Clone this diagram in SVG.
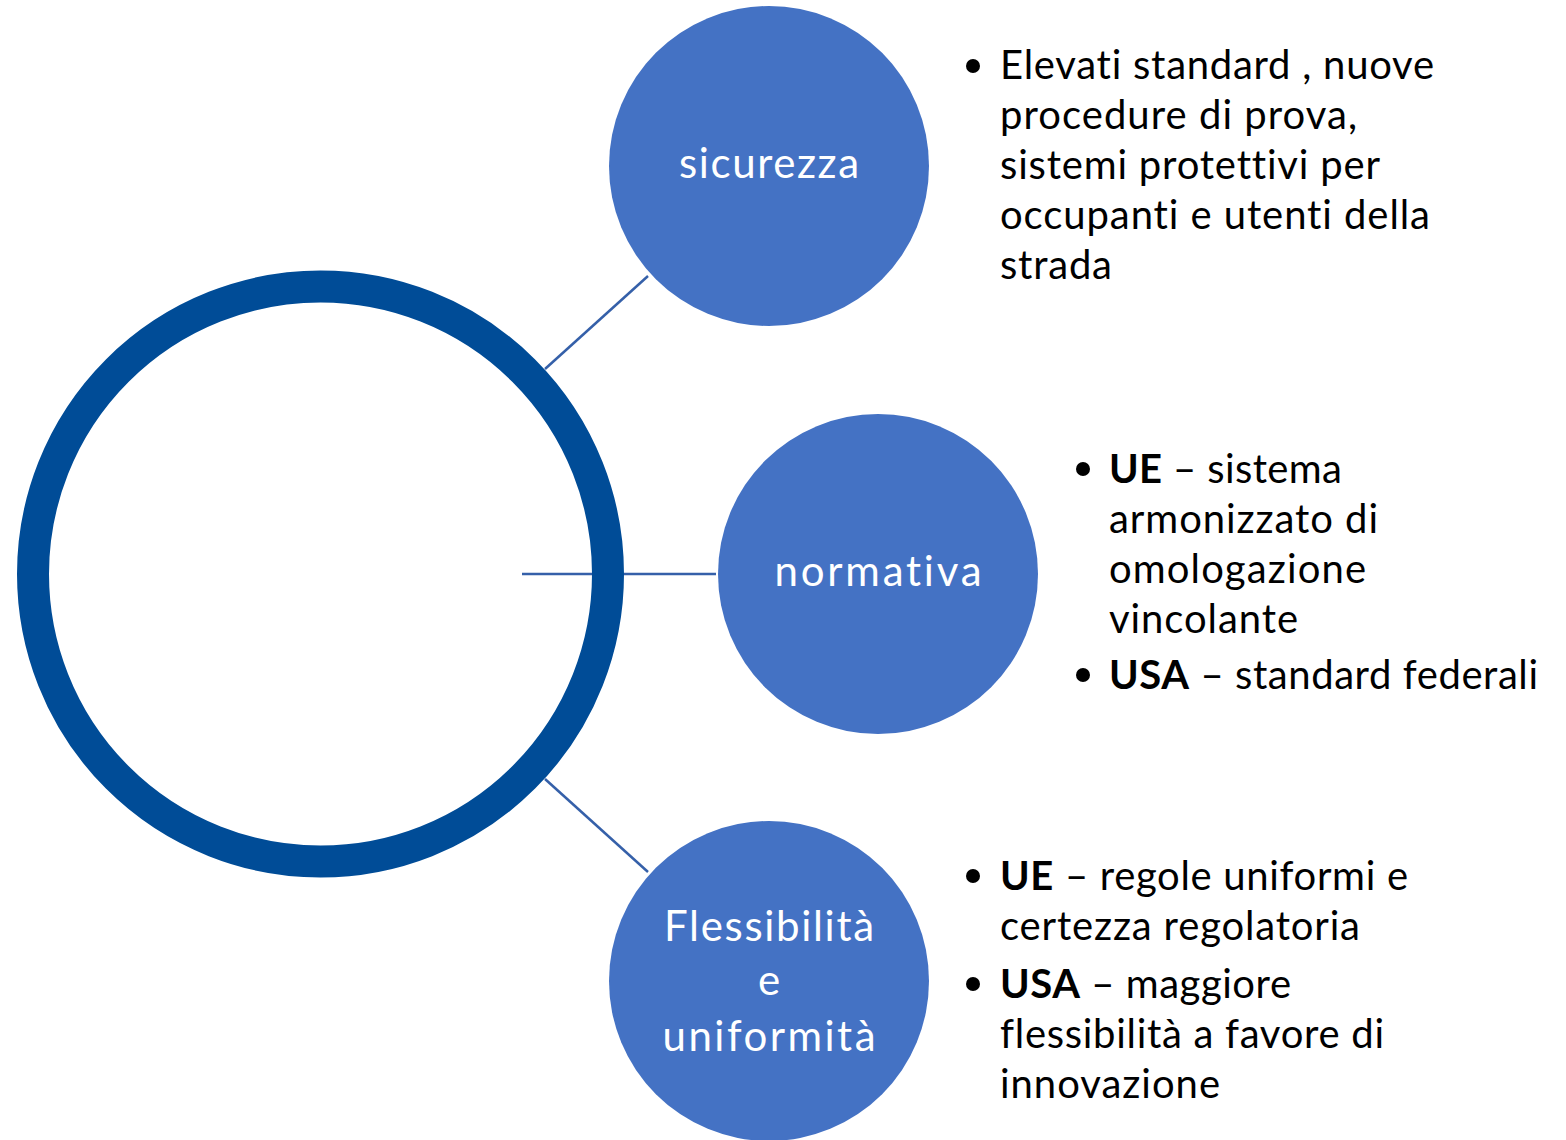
<svg xmlns="http://www.w3.org/2000/svg" width="1566" height="1140" viewBox="0 0 1566 1140">
<style>
.node{fill:#4472C4}
.lbl{font-family:Lato,"Open Sans","Liberation Sans",sans-serif;font-size:42px;fill:#FFFFFF;text-anchor:middle;font-variant-ligatures:none}
.txt{font-family:Lato,"Open Sans","Liberation Sans",sans-serif;font-size:40px;fill:#000000;font-variant-ligatures:none}
.b{font-weight:bold}
.conn{stroke:#3560A9;stroke-width:2.5;fill:none}
.bul{fill:#000000}
</style>
<rect width="1566" height="1140" fill="#FFFFFF"/>
<g id="connectors">
<line class="conn" x1="545" y1="369" x2="648" y2="276"/>
<line class="conn" x1="522" y1="574" x2="716" y2="574"/>
<line class="conn" x1="545" y1="779" x2="648" y2="872"/>
</g>
<g id="center">
<circle cx="320.5" cy="574" r="287.5" fill="none" stroke="#004C97" stroke-width="32"/>
</g>
<g id="sicurezza">
<circle class="node" cx="769" cy="166" r="160"/>
<text class="lbl" x="769" y="178" textLength="180" lengthAdjust="spacing">sicurezza</text>
</g>
<g id="normativa">
<circle class="node" cx="878" cy="574" r="160"/>
<text class="lbl" x="878" y="586" textLength="207" lengthAdjust="spacing">normativa</text>
</g>
<g id="flessibilita">
<circle class="node" cx="769" cy="981" r="160"/>
<text class="lbl" x="769" y="941" textLength="210" lengthAdjust="spacing">Flessibilità</text>
<text class="lbl" x="769" y="995">e</text>
<text class="lbl" x="769" y="1051" textLength="213" lengthAdjust="spacing">uniformità</text>
</g>
<g id="sicurezza-text">
<circle class="bul" cx="973" cy="66" r="7"/>
<text class="txt" x="1000" y="79" textLength="434" lengthAdjust="spacing">Elevati standard , nuove</text>
<text class="txt" x="1000" y="129" textLength="357" lengthAdjust="spacing">procedure di prova,</text>
<text class="txt" x="1000" y="179" textLength="380" lengthAdjust="spacing">sistemi protettivi per</text>
<text class="txt" x="1000" y="229" textLength="430" lengthAdjust="spacing">occupanti e utenti della</text>
<text class="txt" x="1000" y="279" textLength="112" lengthAdjust="spacing">strada</text>
</g>
<g id="normativa-text">
<circle class="bul" cx="1083" cy="469" r="7"/>
<text class="txt" x="1109" y="483" textLength="233" lengthAdjust="spacing"><tspan class="b">UE</tspan> – sistema</text>
<text class="txt" x="1109" y="533" textLength="269" lengthAdjust="spacing">armonizzato di</text>
<text class="txt" x="1109" y="583" textLength="257" lengthAdjust="spacing">omologazione</text>
<text class="txt" x="1109" y="633" textLength="189" lengthAdjust="spacing">vincolante</text>
<circle class="bul" cx="1083" cy="675" r="7"/>
<text class="txt" x="1109" y="689" textLength="429" lengthAdjust="spacing"><tspan class="b">USA</tspan> – standard federali</text>
</g>
<g id="flessibilita-text">
<circle class="bul" cx="973" cy="876" r="7"/>
<text class="txt" x="1000" y="890" textLength="408" lengthAdjust="spacing"><tspan class="b">UE</tspan> – regole uniformi e</text>
<text class="txt" x="1000" y="940" textLength="360" lengthAdjust="spacing">certezza regolatoria</text>
<circle class="bul" cx="973" cy="984" r="7"/>
<text class="txt" x="1000" y="998" textLength="291" lengthAdjust="spacing"><tspan class="b">USA</tspan> – maggiore</text>
<text class="txt" x="1000" y="1048" textLength="384" lengthAdjust="spacing">flessibilità a favore di</text>
<text class="txt" x="1000" y="1098" textLength="220" lengthAdjust="spacing">innovazione</text>
</g>
</svg>
